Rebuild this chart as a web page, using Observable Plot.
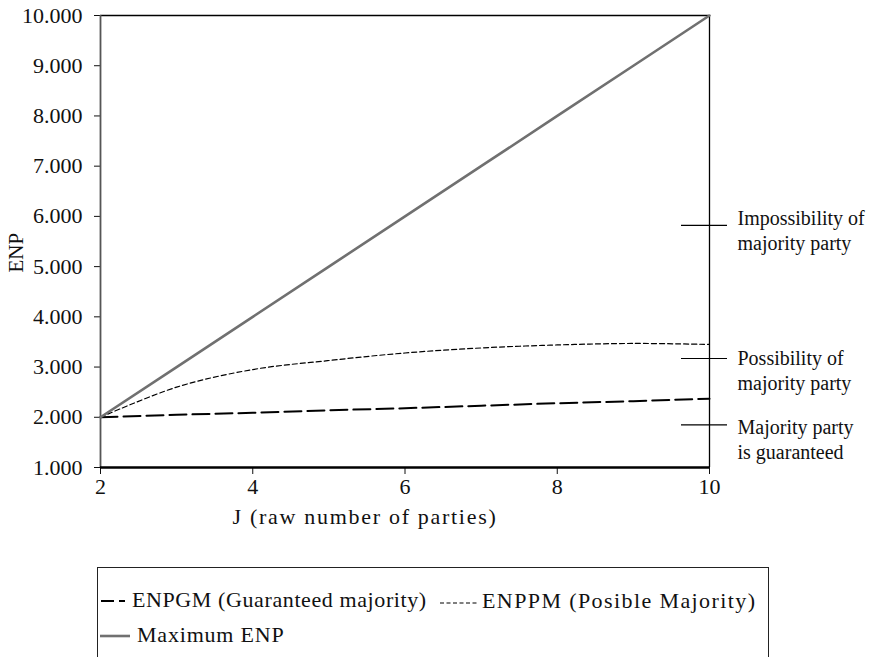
<!DOCTYPE html>
<html>
<head>
<meta charset="utf-8">
<script src="https://cdn.jsdelivr.net/npm/d3@7"></script>
<script src="https://cdn.jsdelivr.net/npm/@observablehq/plot@0.6"></script>
<style>
  body { margin: 0; background: #fff; }
  #wrap { position: relative; width: 871px; height: 657px; overflow: hidden; font-family: "Liberation Serif", serif; color: #111; }
  #wrap svg text { font-family: "Liberation Serif", serif; }
  #legendBox { position: absolute; left: 97px; top: 567px; width: 672px; height: 140px; border: 1.3px solid #222; box-sizing: border-box; }
  .lg { position: absolute; font-size: 22px; line-height: 22px; white-space: nowrap; }
  .sw { position: absolute; }
</style>
</head>
<body>
<div id="wrap"></div>
<script>
// ---- data ----
const J = [2, 3, 4, 5, 6, 7, 8, 9, 10];
const maxENP = [2, 3, 4, 5, 6, 7, 8, 9, 10];
const enpgm = [2.00, 2.05, 2.09, 2.14, 2.18, 2.23, 2.28, 2.32, 2.37];
const enppm = [2.00, 2.60, 2.95, 3.13, 3.28, 3.38, 3.44, 3.47, 3.45];
const xTicks = [2, 4, 6, 8, 10];
const yTicks = [1, 2, 3, 4, 5, 6, 7, 8, 9, 10];
const noteLevels = [5.82, 3.17, 1.85];
const noteLabelY = [5.73, 2.96, 1.57];
const noteLabels = ["Impossibility of\nmajority party", "Possibility of\nmajority party", "Majority party\nis guaranteed"];
const seriesNames = ["ENPGM (Guaranteed majority)", "ENPPM (Posible Majority)", "Maximum ENP"];
const xLabel = "J (raw number of parties)";
const yLabel = "ENP";

const rows = J.map((j, i) => ({j, max: maxENP[i], gm: enpgm[i], pm: enppm[i]}));
const notes = noteLevels.map((v, i) => ({level: v, ly: noteLabelY[i], label: noteLabels[i]}));
const xMin = J[0], xMax = J[J.length - 1];

const chart = Plot.plot({
  width: 871,
  height: 545,
  marginLeft: 100,
  marginRight: 162,
  marginTop: 15,
  marginBottom: 78,
  style: {fontFamily: "'Liberation Serif', serif", fontSize: "22px", color: "#111", background: "white", overflow: "visible"},
  x: {domain: [xMin, xMax], ticks: xTicks, tickSize: 7, tickPadding: 4, label: null, tickFormat: d => String(d)},
  y: {domain: [1, 10], ticks: yTicks, tickSize: 6, tickPadding: 12, label: null, tickFormat: d3.format(".3f")},
  marks: [
    Plot.ruleY([10], {stroke: "#000", strokeWidth: 1.5}),
    Plot.ruleX([xMax], {stroke: "#000", strokeWidth: 1.3}),
    Plot.ruleX([xMin], {stroke: "#555", strokeWidth: 1.8}),
    Plot.ruleY(notes, {y: "level", x1: () => xMax, x2: () => xMax, insetLeft: -28, insetRight: -18, stroke: "#000", strokeWidth: 1.2}),
    Plot.text(notes, {y: "ly", text: "label", frameAnchor: "right", dx: 28, textAnchor: "start", lineAnchor: "middle", fontSize: 20, lineHeight: 1.25, fill: "#111"}),
    Plot.line(rows, {x: "j", y: "gm", stroke: "#000", strokeWidth: 2, strokeDasharray: "17,6"}),
    Plot.line(rows, {x: "j", y: "pm", stroke: "#000", strokeWidth: 1.2, strokeDasharray: "5,3", curve: "catmull-rom"}),
    Plot.line(rows, {x: "j", y: "max", stroke: "#707070", strokeWidth: 2.6}),
    Plot.ruleY([1], {stroke: "#000", strokeWidth: 2.6}),
    Plot.text([yLabel], {frameAnchor: "left", dx: -84, dy: 31, rotate: -90, fontSize: 21, fill: "#111"}),
    Plot.text([xLabel], {frameAnchor: "bottom", dx: -40, dy: 56, fontSize: 22, fill: "#111"})
  ]
});

d3.select(chart).selectAll("text").filter(function() { return this.textContent === xLabel; }).attr("letter-spacing", "1.7");

const wrap = document.getElementById("wrap");
wrap.appendChild(chart);

// ---- legend (HTML below the SVG) ----
const box = document.createElement("div");
box.id = "legendBox";
wrap.appendChild(box);

function swatch(left, top, w, stroke, width, dash) {
  const s = d3.create("svg").attr("class", "sw").attr("width", w).attr("height", 10)
    .style("left", left + "px").style("top", (top - 5) + "px");
  s.append("line").attr("x1", 0).attr("x2", w).attr("y1", 5).attr("y2", 5)
    .attr("stroke", stroke).attr("stroke-width", width).attr("stroke-dasharray", dash || null);
  wrap.appendChild(s.node());
}
function label(left, cy, txt, spacing) {
  const d = document.createElement("div");
  d.className = "lg";
  d.style.left = left + "px";
  d.style.top = (cy - 11) + "px";
  d.style.letterSpacing = spacing + "px";
  d.textContent = txt;
  wrap.appendChild(d);
}
swatch(101, 601, 24, "#000", 2, "13,5");
label(132, 600, seriesNames[0], 0.6);
swatch(440, 603, 38, "#000", 1.2, "4,2.5");
label(482, 601, seriesNames[1], 1.4);
swatch(100, 636, 30, "#707070", 2.6);
label(137, 635, seriesNames[2], 0.8);
</script>
</body>
</html>
